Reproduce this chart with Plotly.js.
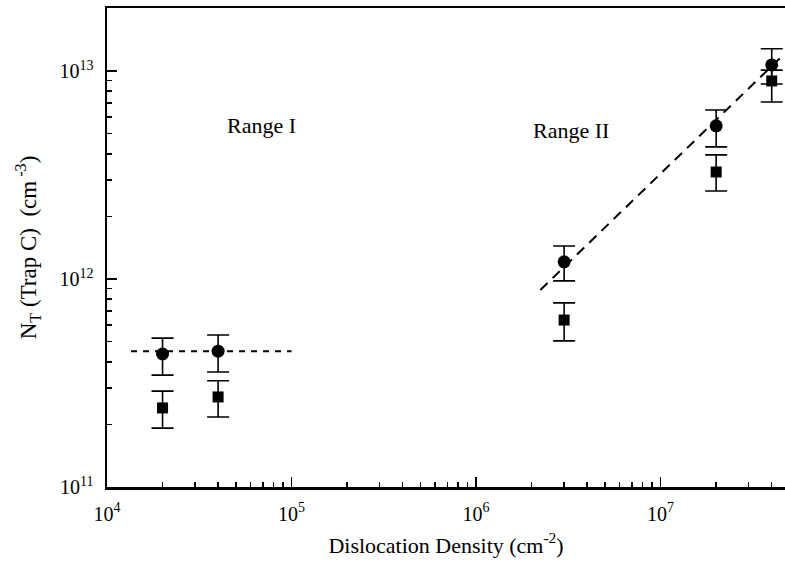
<!DOCTYPE html>
<html>
<head>
<meta charset="utf-8">
<script src="https://cdn.plot.ly/plotly-3.0.1.min.js"></script>
<style>html,body{margin:0;padding:0;background:#fff;}#chart{width:785px;height:570px;}</style>
</head>
<body>
<div id="chart"></div>
<script>
// Data
const densities = [2e4, 4e4, 3e6, 2e7, 4e7];
const circleVals  = [4.36e11, 4.5e11, 1.21e12, 5.45e12, 1.07e13];
const circleUpper = [5.2e11, 5.38e11, 1.44e12, 6.49e12, 1.28e13];
const circleLower = [3.45e11, 3.57e11, 9.8e11, 4.32e12, 8.66e12];
const squareVals  = [2.40e11, 2.71e11, 6.35e11, 3.27e12, 8.96e12];
const squareUpper = [2.89e11, 3.24e11, 7.68e11, 3.95e12, 1.01e13];
const squareLower = [1.92e11, 2.17e11, 5.04e11, 2.65e12, 7.1e12];
const fit1X = [1.35e4, 1e5];
const fit1Y = [4.5e11, 4.5e11];
const fit2X = [2.23e6, 4.6e7];
const fit2Y = [8.86e11, 1.19e13];
const xTickVals = [1e4, 1e5, 1e6, 1e7];
const xTickText = ['10<sup>4</sup>', '10<sup>5</sup>', '10<sup>6</sup>', '10<sup>7</sup>'];
const yTickVals = [1e11, 1e12, 1e13];
const yTickText = ['10<sup>11</sup>', '10<sup>12</sup>', '10<sup>13</sup>'];
const labelText = ['Range I', 'Range II'];
const labelX = [6.9e4, 3.27e6];
const labelY = [5.5e12, 5.2e12];

const font = 'Liberation Serif, Times New Roman, serif';
const up = (v, u) => u.map((x, i) => x - v[i]);
const dn = (v, l) => l.map((x, i) => v[i] - x);

const traces = [
  {x: fit1X, y: fit1Y, mode: 'lines', line: {color: 'black', width: 2, dash: '6px,6px'}, hoverinfo: 'skip'},
  {x: fit2X, y: fit2Y, mode: 'lines', line: {color: 'black', width: 2, dash: '10px,7px'}, hoverinfo: 'skip'},
  {x: densities, y: circleVals, mode: 'markers', marker: {symbol: 'circle', size: 13, color: 'black'},
   error_y: {type: 'data', symmetric: false, array: up(circleVals, circleUpper), arrayminus: dn(circleVals, circleLower), color: 'black', thickness: 1.6, width: 11}},
  {x: densities, y: squareVals, mode: 'markers', marker: {symbol: 'square', size: 11, color: 'black'},
   error_y: {type: 'data', symmetric: false, array: up(squareVals, squareUpper), arrayminus: dn(squareVals, squareLower), color: 'black', thickness: 1.6, width: 11}}
];

const layout = {
  width: 785, height: 570,
  margin: {l: 107, r: 0, t: 8, b: 83},
  paper_bgcolor: '#fff', plot_bgcolor: '#fff',
  showlegend: false,
  font: {family: font, color: 'black'},
  xaxis: {
    type: 'log', range: [4, 7.674], showgrid: false, zeroline: false,
    showline: true, linecolor: 'black', linewidth: 2.5, mirror: true,
    ticks: 'inside', ticklen: 10, tickwidth: 1.5, tickcolor: 'black',
    tickmode: 'array', tickvals: xTickVals, ticktext: xTickText,
    tickfont: {family: font, size: 20, color: 'black'}, ticklabelstandoff: 7,
    minor: {ticks: 'inside', ticklen: 5, tickwidth: 1.5, tickcolor: 'black', dtick: 'D1', showgrid: false},
    title: {text: 'Dislocation Density (cm<sup>-2</sup>)', font: {family: font, size: 22, color: 'black'}, standoff: 14}
  },
  yaxis: {
    type: 'log', range: [11, 13.303], showgrid: false, zeroline: false,
    showline: true, linecolor: 'black', linewidth: 2.5,
    ticks: 'inside', ticklen: 10, tickwidth: 1.5, tickcolor: 'black',
    tickmode: 'array', tickvals: yTickVals, ticktext: yTickText,
    tickfont: {family: font, size: 20, color: 'black'}, ticklabelstandoff: 7,
    minor: {ticks: 'inside', ticklen: 5, tickwidth: 1.5, tickcolor: 'black', dtick: 'D1', showgrid: false},
    title: {text: 'N<sub>T</sub> (Trap C)  (cm<sup> -3</sup>)', font: {family: font, size: 23, color: 'black'}, standoff: 17}
  },
  annotations: labelText.map((t, i) => ({
    x: Math.log10(labelX[i]), y: Math.log10(labelY[i]), xref: 'x', yref: 'y', text: t, showarrow: false,
    font: {family: font, size: 22, color: 'black'}
  }))
};

Plotly.newPlot('chart', traces, layout, {displayModeBar: false, staticPlot: true});
</script>
</body>
</html>
